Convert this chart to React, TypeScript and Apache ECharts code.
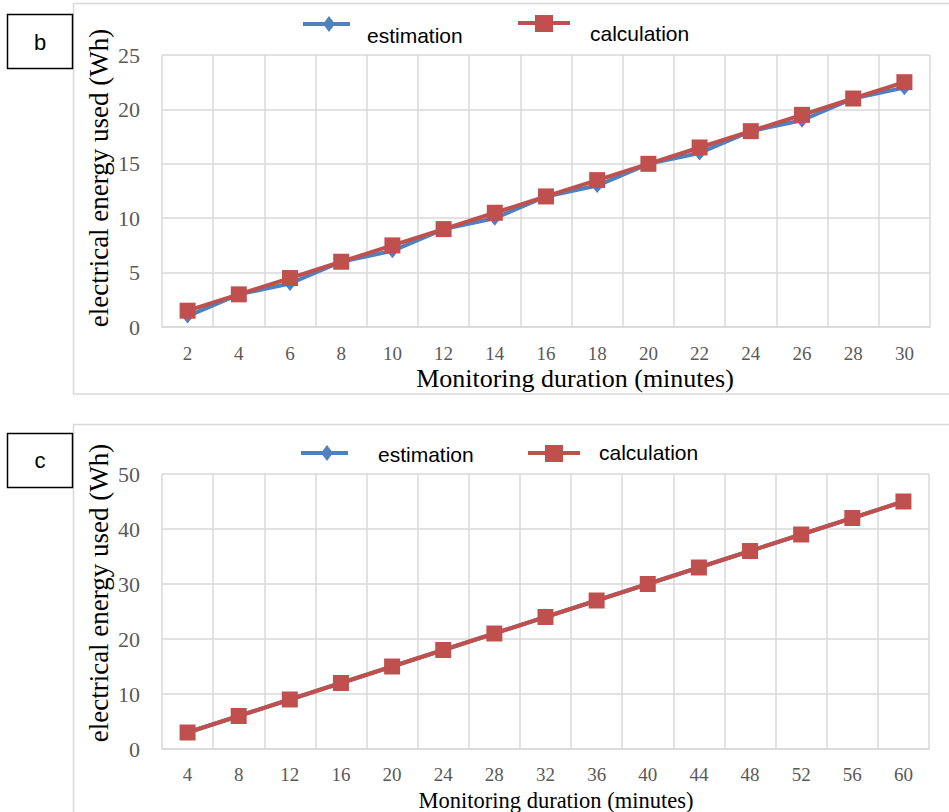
import React, { useEffect, useRef } from "react";
import * as echarts from "echarts";

const topCategories = ["2", "4", "6", "8", "10", "12", "14", "16", "18", "20", "22", "24", "26", "28", "30"];
const topEstimation = [1, 3, 4, 6, 7, 9, 10, 12, 13, 15, 16, 18, 19, 21, 22];
const topCalculation = [1.5, 3, 4.5, 6, 7.5, 9, 10.5, 12, 13.5, 15, 16.5, 18, 19.5, 21, 22.5];

const bottomCategories = ["4", "8", "12", "16", "20", "24", "28", "32", "36", "40", "44", "48", "52", "56", "60"];
const bottomEstimation = [3, 6, 9, 12, 15, 18, 21, 24, 27, 30, 33, 36, 39, 42, 45];
const bottomCalculation = [3, 6, 9, 12, 15, 18, 21, 24, 27, 30, 33, 36, 39, 42, 45];

const seriesNames = ["estimation", "calculation"];
const panelLabels = ["b", "c"];
const yTitle = "electrical energy used (Wh)";
const xTitle = "Monitoring duration (minutes)";

const BLUE = "#4F81BD";
const RED = "#C0504D";
const GRID = "#d9d9d9";
const LABEL = "#595959";
const SERIF = "'Liberation Serif', 'Times New Roman', serif";
const SANS = "'Liberation Sans', Arial, sans-serif";

function legendGraphics(y: number, x0: number) {
  return [
    { type: "line", shape: { x1: x0, y1: y, x2: x0 + 47, y2: y }, style: { stroke: BLUE, lineWidth: 4 } },
    { type: "polygon", shape: { points: [[x0 + 26, y - 8], [x0 + 32, y], [x0 + 26, y + 8], [x0 + 20, y]] }, style: { fill: BLUE } },
  ];
}

export default function App() {
  const ref = useRef<HTMLDivElement>(null);
  useEffect(() => {
    if (!ref.current) return;
    const chart = echarts.init(ref.current, null, { renderer: "svg" });

    const xAxisCommon = (gridIndex: number, data: string[], margin: number) => ({
      type: "category",
      gridIndex,
      data,
      boundaryGap: true,
      axisLine: { show: true, lineStyle: { color: GRID, width: 1.5 } },
      axisTick: { show: false },
      splitLine: { show: true, lineStyle: { color: GRID, width: 1.5 } },
      axisLabel: { color: LABEL, fontFamily: SERIF, fontSize: 19, margin },
    });
    const yAxisCommon = (gridIndex: number, max: number, interval: number) => ({
      type: "value",
      gridIndex,
      min: 0,
      max,
      interval,
      axisLine: { show: false },
      axisTick: { show: false },
      splitLine: { show: true, lineStyle: { color: GRID, width: 1.5 } },
      axisLabel: { color: LABEL, fontFamily: SERIF, fontSize: 22, margin: 22 },
    });

    const lineSeries = (name: string, xi: number, data: number[], color: string, symbol: string, size: number | number[], z: number) => ({
      name,
      type: "line",
      xAxisIndex: xi,
      yAxisIndex: xi,
      data,
      symbol,
      symbolSize: size,
      showSymbol: true,
      z,
      lineStyle: { color, width: 4 },
      itemStyle: { color },
    });

    const graphic: any[] = [
      { type: "rect", shape: { x: 73.5, y: 3.5, width: 885, height: 390.5 }, style: { fill: "none", stroke: GRID, lineWidth: 1.5 }, z: -10 },
      { type: "rect", shape: { x: 73.5, y: 424.5, width: 885, height: 400 }, style: { fill: "none", stroke: GRID, lineWidth: 1.5 }, z: -10 },
      { type: "rect", shape: { x: 7.5, y: 14.5, width: 65, height: 54 }, style: { fill: "#fff", stroke: "#000", lineWidth: 1.5 } },
      { type: "text", x: 40, y: 42, style: { text: panelLabels[0], font: `22px ${SANS}`, fill: "#000", textAlign: "center", textVerticalAlign: "middle" } },
      { type: "rect", shape: { x: 7.5, y: 433.5, width: 65, height: 54 }, style: { fill: "#fff", stroke: "#000", lineWidth: 1.5 } },
      { type: "text", x: 40, y: 460, style: { text: panelLabels[1], font: `22px ${SANS}`, fill: "#000", textAlign: "center", textVerticalAlign: "middle" } },
      { type: "text", x: 99, y: 178, rotation: Math.PI / 2, style: { text: yTitle, font: `27px ${SERIF}`, fill: "#000", textAlign: "center", textVerticalAlign: "middle" } },
      { type: "text", x: 99, y: 593, rotation: Math.PI / 2, style: { text: yTitle, font: `27px ${SERIF}`, fill: "#000", textAlign: "center", textVerticalAlign: "middle" } },
      { type: "text", x: 575, y: 378, style: { text: xTitle, font: `26px ${SERIF}`, fill: "#000", textAlign: "center", textVerticalAlign: "middle" } },
      { type: "text", x: 556, y: 800, style: { text: xTitle, font: `22.5px ${SERIF}`, fill: "#000", textAlign: "center", textVerticalAlign: "middle" } },
      ...legendGraphics(24, 303),
      { type: "text", x: 367, y: 35, style: { text: seriesNames[0], font: `21px ${SANS}`, fill: "#000", textVerticalAlign: "middle" } },
      { type: "line", shape: { x1: 518, y1: 23, x2: 570, y2: 23 }, style: { stroke: RED, lineWidth: 4 } },
      { type: "rect", shape: { x: 535, y: 15, width: 18, height: 17 }, style: { fill: RED } },
      { type: "text", x: 590, y: 33, style: { text: seriesNames[1], font: `21px ${SANS}`, fill: "#000", textVerticalAlign: "middle" } },
      ...legendGraphics(453, 301),
      { type: "text", x: 378, y: 454, style: { text: seriesNames[0], font: `21px ${SANS}`, fill: "#000", textVerticalAlign: "middle" } },
      { type: "line", shape: { x1: 528, y1: 453, x2: 580, y2: 453 }, style: { stroke: RED, lineWidth: 4 } },
      { type: "rect", shape: { x: 545, y: 445, width: 18, height: 17 }, style: { fill: RED } },
      { type: "text", x: 599, y: 452, style: { text: seriesNames[1], font: `21px ${SANS}`, fill: "#000", textVerticalAlign: "middle" } },
    ];

    chart.setOption({
      animation: false,
      backgroundColor: "#fff",
      grid: [
        { left: 162, top: 55, width: 768, height: 272 },
        { left: 162, top: 474, width: 767, height: 275 },
      ],
      xAxis: [xAxisCommon(0, topCategories, 17), xAxisCommon(1, bottomCategories, 16)],
      yAxis: [yAxisCommon(0, 25, 5), yAxisCommon(1, 50, 10)],
      series: [
        lineSeries(seriesNames[0], 0, topEstimation, BLUE, "diamond", [12, 15], 2),
        lineSeries(seriesNames[1], 0, topCalculation, RED, "rect", 16, 3),
        lineSeries(seriesNames[0], 1, bottomEstimation, BLUE, "diamond", [12, 15], 2),
        lineSeries(seriesNames[1], 1, bottomCalculation, RED, "rect", 16, 3),
      ],
      graphic,
    });
    return () => chart.dispose();
  }, []);
  return <div ref={ref} style={{ position: "fixed", left: 0, top: 0, width: 949, height: 812 }} />;
}
